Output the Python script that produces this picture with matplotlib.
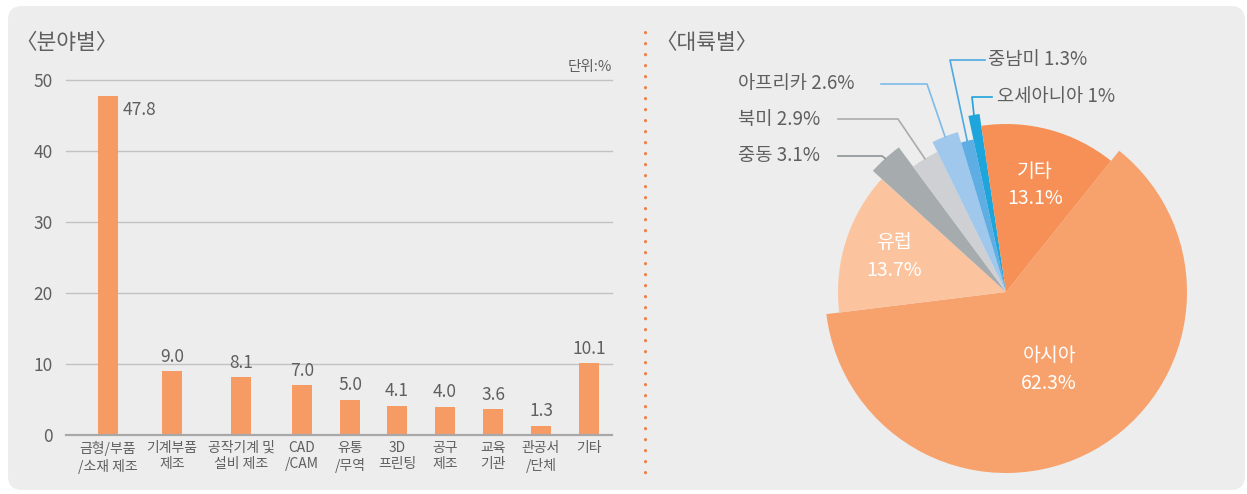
import matplotlib
matplotlib.use('Agg')
import matplotlib.pyplot as plt
from matplotlib.patches import FancyBboxPatch, Wedge
from matplotlib.lines import Line2D
import numpy as np

plt.rcParams['font.family'] = ['Noto Sans CJK KR', 'DejaVu Sans']
plt.rcParams['font.weight'] = 'light'

# --- 데이터 ---
field_labels = ["금형/부품\n/소재 제조", "기계부품\n제조", "공작기계 및\n설비 제조", "CAD\n/CAM",
                "유통\n/무역", "3D\n프린팅", "공구\n제조", "교육\n기관", "관공서\n/단체", "기타"]
field_values = [47.8, 9.0, 8.1, 7.0, 5.0, 4.1, 4.0, 3.6, 1.3, 10.1]

region_names = ["아시아", "유럽", "중동", "북미", "아프리카", "중남미", "오세아니아", "기타"]
region_shares = [62.3, 13.7, 3.1, 2.9, 2.6, 1.3, 1.0, 13.1]

# --- 스타일 / 배치 ---
W, H = 1247, 494
BG = '#ECEDEC'
TXT = '#5F5F5F'
BAR_COLOR = '#F79B64'
bar_x = [108, 172, 241, 302, 350, 397, 445, 493, 541, 589]   # 막대 중심 (px)

region_colors = ['#F7A26D', '#FCC49E', '#A6ABAE', '#CFD0D3', '#A0C8ED', '#5FAEE3', '#1EA5DC', '#F69056']
region_radius = [181, 168, 180, 156, 167, 156, 180, 168]
START = 51.3

inner = {"아시아": 0.49, "유럽": 0.70, "기타": 0.66}
# 이름: (텍스트 x, 텍스트 y, 선 시작 x, 꺾임 x, 선 색)
outer = {
    "중남미": (-18, 232, -21, -56, '#4DA9E2'),
    "오세아니아": (-9, 195, -14, -34, '#1EA3DC'),
    "아프리카": (-268, 208, -125, -79, '#7DBBE9'),
    "북미": (-268, 173, -168, -108, '#A9ABAE'),
    "중동": (-268, 136, -168, -124, '#8E9396'),
}

fig = plt.figure(figsize=(W / 100, H / 100), dpi=100)
fig.patch.set_facecolor('white')
panel = FancyBboxPatch((0.08, 0.04), 12.37, 4.84, boxstyle='round,pad=0,rounding_size=0.14',
                       transform=fig.dpi_scale_trans, fc=BG, ec='none', zorder=0)
fig.add_artist(panel)

# --- 분야별 막대그래프 ---
ax1 = fig.add_axes([66 / W, (H - 435) / H, (612 - 66) / W, (435 - 80) / H])
ax1.set_facecolor('none')
ax1.set_xlim(66, 612)
ax1.set_ylim(0, 50)
for s in ax1.spines.values():
    s.set_visible(False)
for t in range(10, 51, 10):
    ax1.axhline(t, color='#C2C2C2', lw=1, clip_on=False, zorder=0)
ax1.axhline(0, color='#A8A8A8', lw=1.6, clip_on=False, zorder=3)

ax1.bar(bar_x, field_values, width=20, color=BAR_COLOR, zorder=2)
for i, (x, v) in enumerate(zip(bar_x, field_values)):
    if i == 0:
        ax1.annotate(f"{v:.1f}", (x + 10, v), xytext=(3, -4), textcoords='offset points',
                     ha='left', va='top', fontsize=12.5, color=TXT)
    else:
        ax1.annotate(f"{v:.1f}", (x, v), xytext=(0, 4), textcoords='offset points',
                     ha='center', va='bottom', fontsize=12.5, color=TXT)

ax1.set_yticks(range(0, 51, 10))
ax1.tick_params(axis='y', length=0, pad=9.4, labelsize=12.5, labelcolor=TXT)
ax1.set_xticks(bar_x, field_labels)
ax1.tick_params(axis='x', length=0, pad=4, labelsize=10, labelcolor=TXT)
for lbl in ax1.get_xticklabels():
    lbl.set_linespacing(1.25)

fig.text(15 / W, 1 - 43 / H, "〈분야별〉", fontsize=15.5, color=TXT, va='center', ha='left')
fig.text(612 / W, 1 - 67 / H, "단위:%", fontsize=10.5, color=TXT, va='center', ha='right')

# --- 구분 점선 ---
fig.add_artist(Line2D([645 / W, 645 / W], [1 - 32 / H, 1 - 473 / H], transform=fig.transFigure,
                      color='#F07F45', lw=2.2, linestyle=(0, (0.1, 3.5)), dash_capstyle='round'))

# --- 대륙별 파이 ---
ax2 = fig.add_axes([650 / W, (H - 490) / H, 590 / W, 470 / H])
ax2.set_xlim(650 - 1006, 1240 - 1006)
ax2.set_ylim(-(490 - 292), 292 - 20)
ax2.axis('off')

cum = 0.0
for name, share, col, r in zip(region_names, region_shares, region_colors, region_radius):
    hi = START - cum * 3.6
    lo = hi - share * 3.6
    cum += share
    ax2.add_patch(Wedge((0, 0), r, lo, hi, fc=col, ec='none'))
    mid = np.deg2rad((lo + hi) / 2)
    label = f"{name}\n{share:g}%" if name in inner else f"{name} {share:g}%"
    if name in inner:
        d = inner[name] * r
        ax2.text(d * np.cos(mid), d * np.sin(mid), label, ha='center', va='center',
                 fontsize=14, color='white', linespacing=1.4)
    else:
        tx, ty, sx, ex, lc = outer[name]
        ax2.text(tx, ty, label, ha='left', va='center', fontsize=13.5, color=TXT)
        px, py = r * np.cos(mid), r * np.sin(mid)
        ax2.plot([sx, ex, px], [ty, ty, py], color=lc, lw=1.2)

fig.text(655 / W, 1 - 43 / H, "〈대륙별〉", fontsize=15.5, color=TXT, va='center', ha='left')

fig.savefig('out.png', dpi=100)
